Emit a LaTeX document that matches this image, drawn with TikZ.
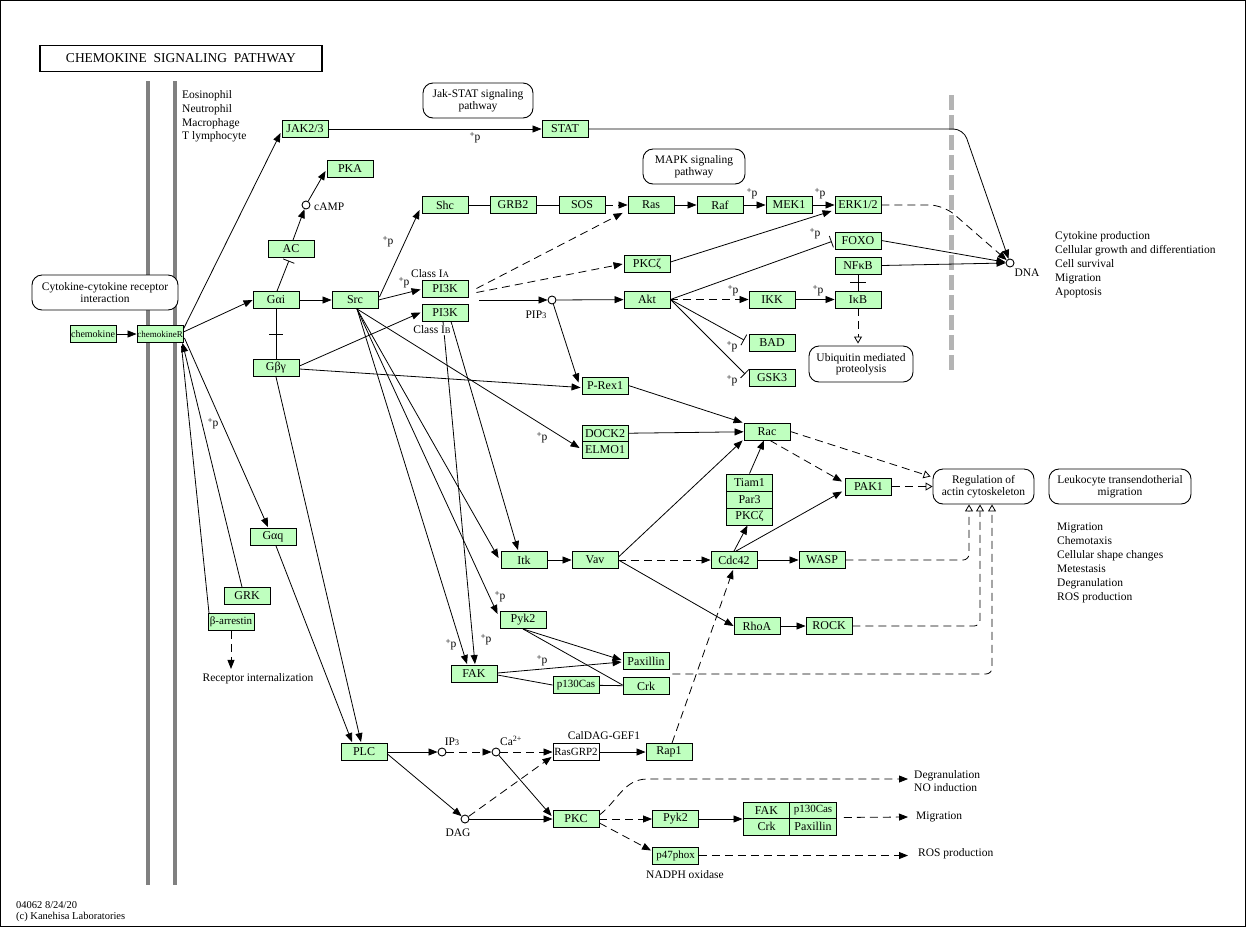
\documentclass[tikz,border=0pt]{standalone}
\usepackage{fontspec}
\setmainfont{Liberation Serif}
\usetikzlibrary{arrows.meta,calc}
\definecolor{kgreen}{HTML}{BFFFBF}
\definecolor{memgray}{HTML}{808080}
\definecolor{nucgray}{HTML}{B4B4B4}
\newcommand\kp{\raisebox{3pt}{\fontsize{9}{9}\selectfont +}p}
\newcommand\smallsub[1]{{\fontsize{8.5}{8.5}\selectfont #1}}
\begin{document}
\begin{tikzpicture}[x=1pt,y=-1pt,
  gene/.style={draw, fill=kgreen, minimum width=46pt, minimum height=17pt, inner sep=0pt, font=\fontsize{12}{12}\selectfont, line width=0.9pt},
  wbox/.style={gene, fill=white},
  pw/.style={draw, fill=white, rounded corners=10pt, align=center, inner sep=0pt, font=\fontsize{11.5}{11.5}\selectfont, line width=0.9pt},
  cpd/.style={draw, circle, fill=white, minimum size=8pt, inner sep=0pt, line width=0.9pt},
  lbl/.style={inner sep=0pt, font=\fontsize{11.5}{14}\selectfont, align=left},
  plbl/.style={inner sep=0pt, font=\fontsize{11.5}{12}\selectfont},
  arr/.style={-{Triangle[length=9pt,width=7pt]}, line width=0.8pt},
  darr/.style={arr, dash pattern=on 8pt off 5pt},
  oarr/.style={-{Triangle[open,length=7pt,width=8pt]}, dash pattern=on 8pt off 5pt, line width=0.8pt},
  inh/.style={-{Bar[width=12pt]}, line width=0.8pt},
  ln/.style={line width=0.8pt},
  dln/.style={ln, dash pattern=on 8pt off 5pt},
]
\useasboundingbox (0,0) rectangle (1246,927);
\draw[line width=1pt] (0.5,0.5) rectangle (1245.5,926.5);

% membranes
\fill[memgray] (146,81) rectangle (150,885);
\fill[memgray] (173,81) rectangle (177,885);
\draw[nucgray, line width=5pt, dash pattern=on 15pt off 5pt] (951,95) -- (951,370);

% title
\node[draw, line width=1.6pt, minimum width=282pt, minimum height=26pt, inner sep=0pt, font=\fontsize{13.5}{14}\selectfont] (title) at (181,58.5) {CHEMOKINE\ \ SIGNALING\ \ PATHWAY};

% pathway boxes
\node[pw, minimum width=146pt, minimum height=35pt] (CCR) at (105,292.5) {Cytokine-cytokine receptor\\interaction};
\node[pw, minimum width=110pt, minimum height=35pt] (JSP) at (478,100.5) {Jak-STAT signaling\\pathway};
\node[pw, minimum width=102pt, minimum height=35pt] (MAPK) at (694,166.5) {MAPK signaling\\pathway};
\node[pw, minimum width=104pt, minimum height=36pt] (Ubiq) at (861,364) {Ubiquitin mediated\\proteolysis};
\node[pw, minimum width=101pt, minimum height=35pt] (Reg) at (983.5,486.5) {Regulation of\\actin cytoskeleton};
\node[pw, minimum width=142pt, minimum height=35pt] (Leuko) at (1120,486.5) {Leukocyte transendotherial\\migration};

% genes
\node[gene] (JAK) at (305,129) {JAK2/3};
\node[gene] (PKA) at (350,169) {PKA};
\node[gene] (AC) at (291,249) {AC};
\node[gene] (Gai) at (276,300) {Gαi};
\node[gene] (Src) at (355,300) {Src};
\node[gene, font=\fontsize{10}{10}\selectfont] (chemokine) at (93,334) {chemokine};
\node[gene, font=\fontsize{9}{10}\selectfont] (chemR) at (160,334) {chemokineR};
\node[gene] (Gby) at (276,368) {Gβγ};
\node[gene] (Gaq) at (273,537) {Gαq};
\node[gene] (GRK) at (247,596) {GRK};
\node[gene, font=\fontsize{11}{11}\selectfont] (barr) at (231,622) {β-arrestin};
\node[gene] (STAT) at (565,129) {STAT};
\node[gene] (Shc) at (445,205) {Shc};
\node[gene] (GRB2) at (513,205) {GRB2};
\node[gene] (SOS) at (582,205) {SOS};
\node[gene] (Ras) at (651,205) {Ras};
\node[gene] (Raf) at (720,205) {Raf};
\node[gene] (MEK1) at (789,205) {MEK1};
\node[gene] (ERK) at (858,205) {ERK1/2};
\node[gene] (PKCz) at (647,264) {PKCζ};
\node[gene] (PI3KA) at (445,288.5) {PI3K};
\node[gene] (PI3KB) at (445,312.5) {PI3K};
\node[gene] (Akt) at (647,299.5) {Akt};
\node[gene] (IKK) at (772,299.5) {IKK};
\node[gene] (IkB) at (858,299.5) {IκB};
\node[gene] (FOXO) at (858,240.5) {FOXO};
\node[gene] (NFkB) at (858,265.5) {NFκB};
\node[gene] (BAD) at (772,342.5) {BAD};
\node[gene] (GSK3) at (772,377.5) {GSK3};
\node[gene] (PRex1) at (605,385.5) {P-Rex1};
\node[gene, minimum height=16.5pt] (DOCK2) at (605,433.5) {DOCK2};
\node[gene, minimum height=16.5pt] (ELMO1) at (605,450) {ELMO1};
\node[gene] (Rac) at (767,431.5) {Rac};
\node[gene] (Tiam1) at (749.5,482.5) {Tiam1};
\node[gene] (Par3) at (749.5,499.5) {Par3};
\node[gene] (PKCz2) at (749.5,516.5) {PKCζ};
\node[gene] (PAK1) at (868.5,486.5) {PAK1};
\node[gene] (Itk) at (524,560) {Itk};
\node[gene] (Vav) at (595,560) {Vav};
\node[gene] (Cdc42) at (734,560) {Cdc42};
\node[gene] (WASP) at (822,560) {WASP};
\node[gene] (Pyk2) at (523,620) {Pyk2};
\node[gene] (RhoA) at (757,626) {RhoA};
\node[gene] (ROCK) at (829,626) {ROCK};
\node[gene] (FAK) at (474,674) {FAK};
\node[gene] (Paxillin) at (646,661) {Paxillin};
\node[gene] (Crk) at (646,686) {Crk};
\node[gene, font=\fontsize{11}{11}\selectfont] (p130Cas) at (576,685) {p130Cas};
\node[gene] (PLC) at (364,752) {PLC};
\node[wbox, font=\fontsize{11}{11}\selectfont] (RasGRP2) at (576,752) {RasGRP2};
\node[gene] (Rap1) at (669,752) {Rap1};
\node[gene] (PKC) at (576,819) {PKC};
\node[gene] (Pyk2b) at (675.5,819) {Pyk2};
\node[gene, font=\fontsize{11}{11}\selectfont] (p47) at (675.5,855.5) {p47phox};
\node[gene, minimum width=47pt, minimum height=16.5pt] (FAKb) at (766.5,810.25) {FAK};
\node[gene, minimum width=47pt, minimum height=16.5pt, font=\fontsize{11}{11}\selectfont] (p130Casb) at (813,810.25) {p130Cas};
\node[gene, minimum width=47pt, minimum height=16.5pt] (Crkb) at (766.5,826.75) {Crk};
\node[gene, minimum width=47pt, minimum height=16.5pt] (Paxb) at (813,826.75) {Paxillin};

% compounds
\node[cpd] (cAMP) at (306,205) {};
\node[cpd] (PIP3) at (552,300) {};
\node[cpd] (DNA) at (1010,263) {};
\node[cpd] (IP3) at (442,752) {};
\node[cpd] (Ca) at (496,752) {};
\node[cpd] (DAG) at (465,819) {};

% free ends
\coordinate (degr) at (908,779);
\coordinate (mig) at (908,817);
\coordinate (ros) at (908,855.5);

% edges
\draw[arr] (chemokine) -- (chemR);
\draw[arr] ($(chemR.east)+(0,-5)$) -- ($(JAK.west)+(-1,4)$);
\draw[arr] ($(chemR.east)+(0,-2)$) -- (Gai.west);
\draw[arr] ($(chemR.east)+(1,4)$) -- ($(Gaq.north)+(-5,-1)$);
\draw[arr] ($(GRK.north)+(-5,0)$) -- ($(chemR.south east)+(-1,0)$);
\draw[ln] ($(barr.north)+(-22,0)$) -- ($(chemR.south east)+(-2,3)$);
\draw[darr] (barr.south) -- ($(barr.south)+(0,38)$);
\draw[inh, shorten >=3pt] ($(Gai.north)+(1,0)$) -- ($(AC.south)+(-1,0)$);
\draw[arr] ($(AC.north)+(2,0)$) -- (cAMP);
\draw[arr] (cAMP) -- ($(PKA.west)+(-1,2)$);
\draw[arr] (Gai) -- (Src);
\draw[ln] (Gai) -- (Gby);
\draw[ln] ($(Gai.south)!0.5!(Gby.north)+(-7,0)$) -- ++(14,0);
\draw[arr] ($(Src.east)+(1,-3)$) -- ($(Shc.west)+(-2,5)$);
\draw[arr] (Src.east) -- ($(PI3KA.west)+(-1,1)$);
\draw[arr] ($(Gby.east)+(0,-2)$) -- ($(PI3KB.west)+(-1,0)$);
\draw[arr] ($(Gby.east)+(0,1)$) -- ($(PRex1.west)+(-1,2)$);
\draw[arr] (Gby.south) -- ($(PLC.north)+(-3,-1)$);
\draw[arr] ($(Gaq.south)+(3,0)$) -- ($(PLC.north)+(-12,-1)$);
\coordinate (srcb) at ($(Src.south)+(2,0)$);
\draw[arr] (srcb) -- ($(ELMO1.west)+(-2,-2)$);
\draw[arr] (srcb) -- ($(Itk.west)+(-2,-2)$);
\draw[arr] (srcb) -- ($(Pyk2.west)+(-2,-6)$);
\draw[arr] (srcb) -- ($(FAK.north)+(-7,-1)$);
\draw[arr] ($(PI3KB.south)+(-2,0)$) -- ($(FAK.north)+(1,-1)$);
\draw[arr] ($(PI3KB.south)+(6,0)$) -- ($(Itk.north)+(-6,-1)$);
\draw[darr] ($(PI3KA.east)+(8,0)$) -- ($(Ras.south west)+(-5,-1)$);
\draw[darr] ($(PI3KA.east)+(8,4)$) -- ($(PKCz.west)+(-1,0)$);
\draw[arr] ($(PI3KA.east)+(11,11.5)$) -- (PIP3);
\draw[arr] (PIP3) -- (Akt);
\draw[arr] (PIP3) -- ($(PRex1.west)+(-3,-3)$);
\draw[ln] (Shc) -- (GRB2);
\draw[ln] (GRB2) -- (SOS);
\draw[darr] (SOS) -- (Ras);
\draw[arr] (Ras) -- (Raf);
\draw[arr] (Raf) -- (MEK1);
\draw[arr] (MEK1) -- (ERK);
\draw[arr] ($(PKCz.east)+(0,-2)$) -- ($(ERK.west)+(-3,6)$);
\draw[inh, shorten >=3pt] (Akt.east) -- (FOXO.west);
\draw[darr] (Akt) -- (IKK);
\draw[arr] (IKK) -- (IkB);
\draw[inh, shorten >=5pt] (Akt.east) -- (BAD.west);
\draw[inh, shorten >=5pt] (Akt.east) -- (GSK3.west);
\draw[ln] (NFkB) -- (IkB);
\draw[ln] ($(NFkB.south)!0.5!(IkB.north)+(-8,0)$) -- ++(16,0);
\draw[oarr, shorten >=2pt] (IkB.south) -- (IkB.south |- Ubiq.north);
\draw[dln, -{Triangle[length=9pt,width=7pt]}, rounded corners=14pt] (ERK.east) -- ($(ERK.east)+(62,0)$) -- (DNA);
\draw[arr] (FOXO.east) -- (DNA);
\draw[arr] (NFkB.east) -- (DNA.west);
\draw[arr, rounded corners=10pt] (STAT.east) -- ($(STAT.east)+(375,0)$) -- (DNA);
\draw[arr] (JAK) -- (STAT);
\draw[arr] (PRex1.east) -- ($(Rac.north west)+(-1,0)$);
\draw[arr] (DOCK2) -- (Rac);
\draw[arr] ($(Vav.east)+(0,-3)$) -- ($(Rac.south west)+(-1,0)$);
\draw[arr] (Tiam1.north) -- ($(Rac.south)+(-3,0)$);
\draw[darr] ($(Rac.south)+(3,0)$) -- ($(PAK1.west)+(-3,-5)$);
\draw[oarr] (Rac.east) -- ($(Reg.west)+(-2,-10)$);
\draw[oarr] (PAK1) -- (Reg);
\draw[arr] (Cdc42.north) -- ($(PKCz2.south)+(-2,0)$);
\draw[arr] ($(Cdc42.north)+(2,0)$) -- ($(PAK1.west)+(-3,5)$);
\draw[arr] (Itk) -- (Vav);
\draw[darr] (Vav) -- (Cdc42);
\draw[arr] (Vav.east) -- (RhoA.west);
\draw[arr] (Cdc42) -- (WASP);
\draw[arr] (RhoA) -- (ROCK);
\draw[oarr, rounded corners=6pt] (WASP.east) -| ($(Reg.south)+(-14.5,0)$);
\draw[oarr, rounded corners=6pt] (ROCK.east) -| ($(Reg.south)+(-3.5,0)$);
\draw[oarr, rounded corners=6pt] ($(Paxillin.south east)+(3,4)$) -| ($(Reg.south)+(8.5,0)$);
\draw[arr] (Pyk2.south) -- ($(Paxillin.west)+(-1,-1)$);
\draw[ln] (Pyk2.south) -- ($(Crk.west)+(0,-1)$);
\draw[arr] ($(FAK.east)+(0,-1)$) -- ($(Paxillin.west)+(-1,1)$);
\draw[ln] ($(FAK.east)+(0,1)$) -- (p130Cas.west);
\draw[ln] (p130Cas) -- (Crk);
\draw[darr] ($(Rap1.north)+(3,0)$) -- ($(Cdc42.south)+(-1,1)$);
\draw[arr] (PLC) -- (IP3);
\draw[darr] (IP3) -- (Ca);
\draw[darr] (Ca) -- (RasGRP2);
\draw[arr] (RasGRP2) -- (Rap1);
\draw[arr] ($(PLC.east)+(0,2)$) -- (DAG);
\draw[darr] (DAG) -- ($(RasGRP2.south west)+(-1,-4)$);
\draw[arr] (Ca) -- ($(PKC.west)+(-1,-3)$);
\draw[arr] (DAG) -- (PKC);
\draw[darr] ($(PKC.east)+(0,-4)$) to[out=38,in=180] ($(PKC.east)+(48,-40)$) -- (degr);
\draw[darr] (PKC) -- (Pyk2b);
\draw[darr] ($(PKC.east)+(0,4)$) -- ($(p47.west)+(-1,-5)$);
\draw[arr] (Pyk2b.east) -- (Pyk2b.east -| FAKb.west);
\draw[darr] ($(p130Casb.south east)+(7,-1.5)$) -- (mig);
\draw[darr] (p47.east) -- (ros);

% labels
\node[lbl, anchor=west, font=\fontsize{11.5}{13.7}\selectfont] (cells) at (182,116.5) {Eosinophil\\Neutrophil\\Macrophage\\T lymphocyte};
\node[lbl, anchor=west] (camptxt) at (314,207) {cAMP};
\node[lbl, fill=white, inner sep=1pt] (classA) at (430,274) {Class I\smallsub{A}};
\node[lbl, fill=white, inner sep=1pt] (classB) at (432,330) {Class I\smallsub{B}};
\node[lbl] (piptxt) at (536,315) {PIP\smallsub{3}};
\node[lbl] (dnatxt) at (1027,273) {DNA};
\node[lbl, anchor=west] (outtxt) at (1055,265) {Cytokine production\\Cellular growth and differentiation\\Cell survival\\Migration\\Apoptosis};
\node[lbl, anchor=west] (migtxt) at (1057,563) {Migration\\Chemotaxis\\Cellular shape changes\\Metestasis\\Degranulation\\ROS production};
\node[lbl] (recint) at (258,679) {Receptor internalization};
\node[lbl] (ip3txt) at (452,742) {IP\smallsub{3}};
\node[lbl] (catxt) at (511,741) {Ca\textsuperscript{2+}};
\node[lbl] (caldag) at (604,736) {CalDAG-GEF1};
\node[lbl] (dagtxt) at (458,833) {DAG};
\node[lbl] (nadph) at (685,875) {NADPH oxidase};
\node[lbl, anchor=west, font=\fontsize{11.5}{13}\selectfont] (degrtxt) at (914,781.5) {Degranulation\\NO induction};
\node[lbl, anchor=west] (migtxt2) at (916,817) {Migration};
\node[lbl, anchor=west] (rostxt) at (918,854) {ROS production};
\node[lbl, anchor=west, font=\fontsize{10.5}{11}\selectfont] (foot) at (16,911.5) {04062 8/24/20\\(c) Kanehisa Laboratories};

% +p labels
\node[plbl] (p1) at (475,138) {\kp};
\node[plbl] (p2) at (388,242) {\kp};
\node[plbl] (p3) at (404,283) {\kp};
\node[plbl] (p4) at (752,194) {\kp};
\node[plbl] (p5) at (820,194) {\kp};
\node[plbl] (p6) at (815,234) {\kp};
\node[plbl] (p7) at (733,291) {\kp};
\node[plbl] (p8) at (818,291) {\kp};
\node[plbl] (p9) at (732,347) {\kp};
\node[plbl] (p10) at (732,381) {\kp};
\node[plbl] (p11) at (213,424) {\kp};
\node[plbl] (p12) at (542,438) {\kp};
\node[plbl] (p13) at (500,597) {\kp};
\node[plbl] (p14) at (451,645) {\kp};
\node[plbl] (p15) at (486,640) {\kp};
\node[plbl] (p16) at (542,661) {\kp};
\end{tikzpicture}
\end{document}
